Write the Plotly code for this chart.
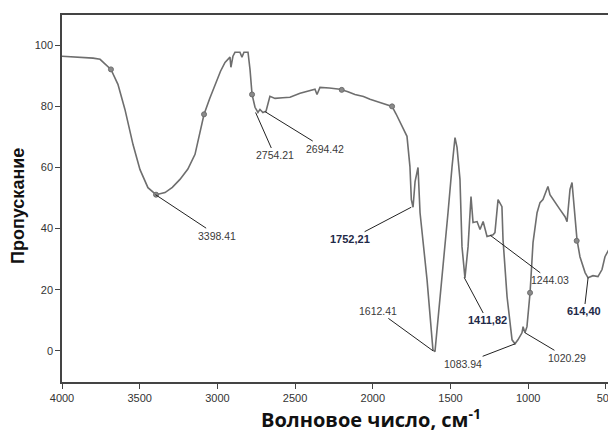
import plotly.graph_objects as go

# Spectrum (wavenumber, transmittance)
wavenumber = [4000, 3884, 3800, 3755, 3685, 3640, 3595, 3543, 3498, 3447, 3395, 3337, 3290, 3241, 3190,
              3144, 3086, 3050, 3015, 2980, 2951, 2919, 2913, 2900, 2887, 2855, 2842, 2829, 2803, 2790,
              2777, 2758, 2739, 2726, 2707, 2687, 2662, 2629, 2580, 2533, 2468, 2420, 2372, 2359, 2340,
              2280, 2211, 2160, 2115, 2060, 2018, 1954, 1910, 1876, 1850, 1825, 1800, 1780, 1761, 1752,
              1741, 1728, 1709, 1696, 1651, 1613, 1600, 1555, 1516, 1490, 1471, 1458, 1439, 1426, 1407,
              1387, 1374, 1368, 1355, 1329, 1310, 1290, 1265, 1244, 1226, 1214, 1194, 1169, 1162, 1136,
              1104, 1085, 1066, 1040, 1033, 1021, 1008, 988, 969, 943, 924, 905, 879, 873, 860, 828,
              795, 763, 750, 744, 731, 718, 712, 699, 686, 667, 634, 615, 583, 551, 525, 506, 474, 435, 396]
transmittance = [96.4, 96.1, 95.8, 95.4, 92.1, 87.2, 79.0, 67.5, 59.3, 53.4, 51.1, 51.8, 53.5, 56.1, 59.5,
                 64.3, 77.4, 82.5, 87.2, 91.5, 94.4, 96.1, 92.8, 96.4, 97.7, 97.7, 96.1, 97.7, 97.7, 92.0,
                 83.9, 79.7, 78.0, 79.0, 78.0, 78.4, 83.3, 82.6, 82.8, 83.0, 84.3, 85.0, 85.6, 83.9, 86.2,
                 86.0, 85.6, 84.8, 83.9, 83.2, 82.3, 81.3, 80.6, 80.0, 77.5, 74.8, 72.5, 70.2, 60.3, 49.5,
                 47.0, 55.4, 60.0, 45.2, 23.3, 0.3, -0.3, 23.3, 45.2, 60.3, 69.8, 66.6, 56.1, 34.1, 23.9,
                 34.1, 45.2, 50.5, 42.0, 42.3, 39.7, 42.3, 37.4, 37.8, 38.0, 38.7, 49.5, 47.2, 36.4, 17.7,
                 3.6, 2.3, 3.6, 5.9, 7.9, 5.9, 7.9, 19.0, 35.4, 45.2, 48.5, 49.5, 52.8, 53.8, 51.1, 48.5,
                 46.2, 43.9, 42.3, 45.6, 52.8, 55.1, 51.8, 43.0, 36.4, 30.8, 25.6, 23.9, 24.6, 24.3, 26.6,
                 30.8, 33.8, 35.7, 37.0]

# Peak-pick markers on the curve
marker_x = [3685, 3395, 3086, 2777, 2200, 1876, 988, 688]
marker_y = [92.1, 51.1, 77.4, 83.9, 85.4, 80.0, 19.0, 36.0]

# Peak labels
peak_text = ["3398.41", "2754.21", "2694.42", "<b>1752,21</b>", "1612.41", "<b>1411,82</b>",
             "1244.03", "1083.94", "1020.29", "<b>614,40</b>"]
peak_x = [3398.41, 2754.21, 2694.42, 1752.21, 1612.41, 1411.82, 1244.03, 1083.94, 1020.29, 614.40]
peak_y = [51.1, 78.0, 78.3, 47.0, 0.0, 24.0, 37.8, 2.3, 5.9, 24.0]
label_dx = [62, 19, 60, -61, -55, 23, 60, -52, 42, -4]
label_dy = [41, 43, 37, 32, -40, 43, 45, 20, 25, 34]
label_bold = [False, False, False, True, False, True, False, False, False, True]

x_ticks = [4000, 3500, 3000, 2500, 2000, 1500, 1000, 500]
y_ticks = [0, 20, 40, 60, 80, 100]

fig = go.Figure()
fig.add_trace(go.Scatter(x=wavenumber, y=transmittance, mode="lines",
                         line=dict(color="#6e6e6e", width=1.6), hoverinfo="skip"))
fig.add_trace(go.Scatter(x=marker_x, y=marker_y, mode="markers",
                         marker=dict(color="#8a8a8a", size=5, line=dict(color="#6e6e6e", width=1)),
                         hoverinfo="skip"))

for t, xv, yv, dx, dy, b in zip(peak_text, peak_x, peak_y, label_dx, label_dy, label_bold):
    fig.add_annotation(
        x=xv, y=yv, text=t, showarrow=True, arrowhead=0, arrowwidth=1, arrowcolor="#222",
        ax=dx, ay=dy, standoff=0,
        font=dict(family="Liberation Sans, Arial", size=11 if b else 10.5,
                  color="#1f2a48" if b else "#3a3a3a"),
    )

# Axis titles placed as paper annotations
fig.add_annotation(xref="paper", yref="paper", x=(18 - 62) / 554, y=(382 - 206) / 367,
                   text="<b>Пропускание</b>", textangle=-90, showarrow=False,
                   xanchor="center", yanchor="middle",
                   font=dict(family="Liberation Sans, Arial", size=18, color="#111"))
fig.add_annotation(xref="paper", yref="paper", x=(371 - 62) / 554, y=(382 - 418) / 367,
                   text="<b>Волновое число, см<sup>-1</sup></b>", showarrow=False,
                   xanchor="center", yanchor="middle",
                   font=dict(family="Open Sans", size=20, color="#111"))

# the page body adds an 8px offset; size the figure so the plot area lands where it should
fig.update_layout(
    width=608, height=424,
    margin=dict(l=54, r=0, t=7, b=50),
    paper_bgcolor="white", plot_bgcolor="white",
    showlegend=False,
    xaxis=dict(range=[4000, 435], tickvals=x_ticks, ticks="outside", ticklen=5,
               tickcolor="#444", showline=True, linecolor="#444", linewidth=1.5,
               mirror=True, showgrid=False, zeroline=False, automargin=False,
               tickfont=dict(family="Liberation Sans, Arial", size=11, color="#333")),
    yaxis=dict(range=[-10.2, 109.9], tickvals=y_ticks, ticks="outside", ticklen=5,
               tickcolor="#444", showline=True, linecolor="#444", linewidth=1.5,
               showgrid=False, zeroline=False, automargin=False,
               tickfont=dict(family="Liberation Sans, Arial", size=11, color="#333")),
)

fig.write_html("out.html")
